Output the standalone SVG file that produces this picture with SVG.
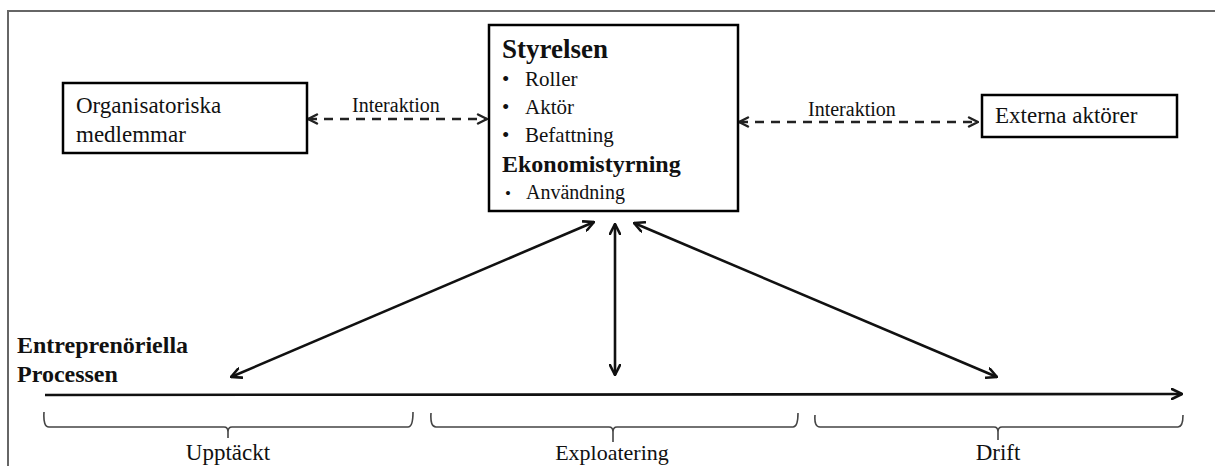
<svg xmlns="http://www.w3.org/2000/svg" width="1215" height="466" viewBox="0 0 1215 466">
<style>
  .box{fill:#fff;stroke:#000;stroke-width:2.5}
  .t{font-family:"Liberation Serif","Times New Roman",serif;fill:#111}
  .b{font-weight:bold}
  .solid{stroke:#111;stroke-width:2.6;fill:none}
  .dash{stroke:#222;stroke-width:2.6;fill:none;stroke-dasharray:9 7}
  .brace{stroke:#444;stroke-width:1.6;fill:none;stroke-linejoin:round}
</style>
<defs>
  <marker id="ah" viewBox="0 0 12 12" refX="11" refY="6" markerWidth="12" markerHeight="12" markerUnits="userSpaceOnUse" orient="auto-start-reverse">
    <path d="M1,1 L11,6 L1,11" fill="none" stroke="#111" stroke-width="2.6" stroke-linecap="round" stroke-linejoin="round"/>
  </marker>
  <marker id="ahd" viewBox="0 0 12 12" refX="11" refY="6" markerWidth="12" markerHeight="12" markerUnits="userSpaceOnUse" orient="auto-start-reverse">
    <path d="M2,1.5 L11,6 L2,10.5" fill="none" stroke="#222" stroke-width="2.4" stroke-linecap="round" stroke-linejoin="round"/>
  </marker>
</defs>
<rect width="1215" height="466" fill="#fff"/>
<!-- outer frame -->
<path d="M8,466 L8,11 L1215,11" fill="none" stroke="#666" stroke-width="2"/>

<g id="connectors">
  <line class="dash" x1="308" y1="119" x2="487" y2="119" marker-start="url(#ahd)" marker-end="url(#ahd)"/>
  <line class="dash" x1="739" y1="122" x2="978" y2="122" marker-start="url(#ahd)" marker-end="url(#ahd)"/>
  <line class="solid" x1="231" y1="377" x2="594" y2="222" marker-start="url(#ah)" marker-end="url(#ah)"/>
  <line class="solid" x1="615" y1="224" x2="615" y2="375" marker-start="url(#ah)" marker-end="url(#ah)"/>
  <line class="solid" x1="634" y1="223" x2="997" y2="377" marker-start="url(#ah)" marker-end="url(#ah)"/>
  <line class="solid" x1="45" y1="395" x2="1182" y2="394" stroke-width="3" marker-end="url(#ah)"/>
  <text class="t" x="352" y="112" font-size="20">Interaktion</text>
  <text class="t" x="808" y="116" font-size="20">Interaktion</text>
</g>

<g id="org">
  <rect class="box" x="63" y="83" width="244" height="70"/>
  <text class="t" x="76" y="113" font-size="23">Organisatoriska</text>
  <text class="t" x="76" y="142" font-size="23">medlemmar</text>
</g>

<g id="styrelsen">
  <rect class="box" x="489" y="25" width="249" height="186"/>
  <text class="t b" x="502" y="58" font-size="27">Styrelsen</text>
  <text class="t" x="502" y="86" font-size="21">•</text>
  <text class="t" x="525" y="86" font-size="21">Roller</text>
  <text class="t" x="502" y="114" font-size="21">•</text>
  <text class="t" x="525" y="114" font-size="21">Aktör</text>
  <text class="t" x="502" y="142" font-size="21">•</text>
  <text class="t" x="525" y="142" font-size="21">Befattning</text>
  <text class="t b" x="502" y="172" font-size="24">Ekonomistyrning</text>
  <text class="t" x="505" y="199" font-size="17">•</text>
  <text class="t" x="526" y="199" font-size="20">Användning</text>
</g>

<g id="externa">
  <rect class="box" x="982" y="95" width="195" height="42"/>
  <text class="t" x="995" y="123" font-size="23">Externa aktörer</text>
</g>

<g id="process">
  <text class="t b" x="17" y="353" font-size="24">Entreprenöriella</text>
  <text class="t b" x="17" y="382" font-size="24">Processen</text>
</g>

<g id="upptackt">
  <path class="brace" d="M44,412 Q43,427 49,427 L224,427 Q228,427 228,432 L228,438 M228,432 Q228,427 232,427 L408,427 Q413,427 413,412"/>
  <text class="t" x="228" y="460" font-size="23" text-anchor="middle">Upptäckt</text>
</g>

<g id="exploatering">
  <path class="brace" d="M431,413 Q430,427 436,427 L609,427 Q613,427 613,432 L613,442 M613,432 Q613,427 617,427 L793,427 Q798,427 798,413"/>
  <text class="t" x="612" y="460" font-size="22" text-anchor="middle">Exploatering</text>
</g>

<g id="drift">
  <path class="brace" d="M815,415 Q814,427 820,427 L994,427 Q998,427 998,432 L998,440 M998,432 Q998,427 1002,427 L1178,427 Q1183,427 1183,415"/>
  <text class="t" x="998" y="460" font-size="23" text-anchor="middle">Drift</text>
</g>
</svg>
